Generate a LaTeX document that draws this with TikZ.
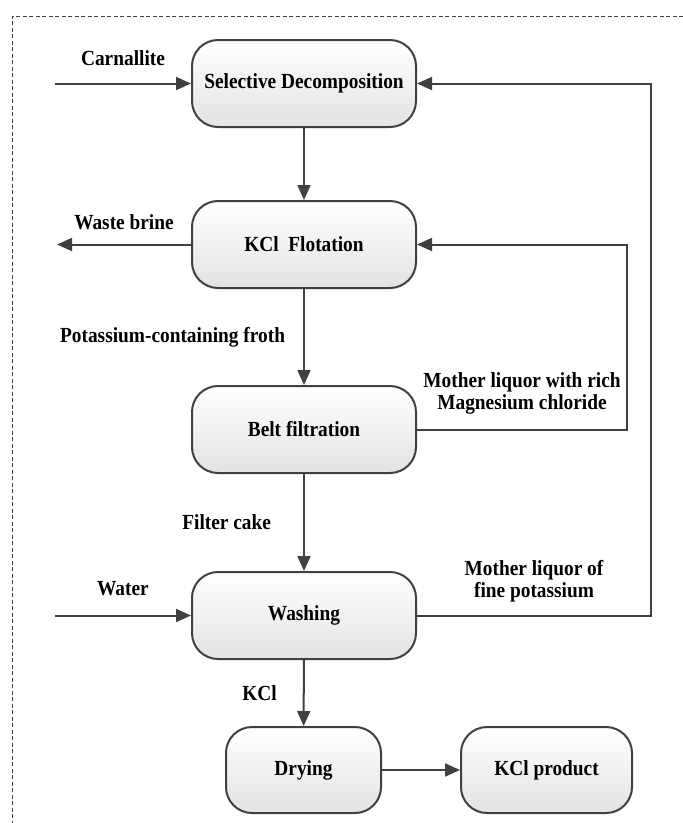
\documentclass[tikz,border=0pt]{standalone}
\usepackage{fontspec}
\setmainfont{Liberation Serif}
\newfontfamily\condfont{Liberation Serif}[FakeStretch=0.9]
\usetikzlibrary{calc,arrows.meta}
\definecolor{linegray}{HTML}{404040}
\tikzset{
	proc/.style={draw=linegray, line width=2pt, rounded corners=26pt, top color=white, bottom color=black!11,
		minimum width=224pt, minimum height=87pt, inner sep=0pt},
	flow/.style={draw=linegray, line width=2pt, -{Triangle[length=15pt,width=13pt]}},
	lbl/.style={align=center, inner sep=0pt}
}

\begin{document}
\begin{tikzpicture}[x=1pt, y=-1pt, every node/.style={font=\condfont\fontsize{21.5}{22}\selectfont\bfseries}]
		\useasboundingbox (0,0) rectangle (683,823);
		\draw [linegray, line width=1pt, dash pattern=on 4pt off 2.5pt] (683,16) -- (12,16) -- (12,823);

		\node [proc] (1) at (304,83.5) {Selective Decomposition};
		\node [proc] (2) at ($(1) + (0,161)$) {KCl\ \ Flotation};
		\node [proc] (3) at ($(2) + (0,185)$) {Belt filtration};
		\node [proc] (4) at ($(3) + (0,186)$) {Washing};
		\node [proc, minimum width=155pt, minimum height=86pt] (5) at ($(4) + (-0.5,154.5)$) {Drying};
		\node [proc, minimum width=171pt, minimum height=86pt] (6) at ($(5) + (243,0)$) {KCl product};

		\coordinate (a) at (55,83.5);
		\coordinate (b) at (57,244.5);
		\coordinate (c) at (55,615.5);

		\draw [flow] (a) -- node [lbl, above=17pt] {Carnallite} (1);
		\draw [flow] (1) -- (2);
		\draw [flow] (2) -- node [lbl, above=14pt] {Waste brine} (b);
		\draw [flow] (2) -- node [lbl, left=18pt] {Potassium-containing froth} (3);
		\draw [flow] (3.east) -- node [lbl, above=14pt] {Mother liquor with rich\\Magnesium chloride} ++(210,0) |- (2.east);
		\draw [flow] (3) -- node [lbl, left=32pt] {Filter cake} (4);
		\draw [flow] (c) -- node [lbl, above=19pt] {Water} (4);
		\draw [flow] (4.east) -- node [lbl, above=12pt] {Mother liquor of\\fine potassium} ++(234,0) |- (1.east);
		\draw [flow] (4) -- node [lbl, left=26pt] {KCl} (5);
		\draw [flow] (5) -- (6);
		\end{tikzpicture}
\end{document}
